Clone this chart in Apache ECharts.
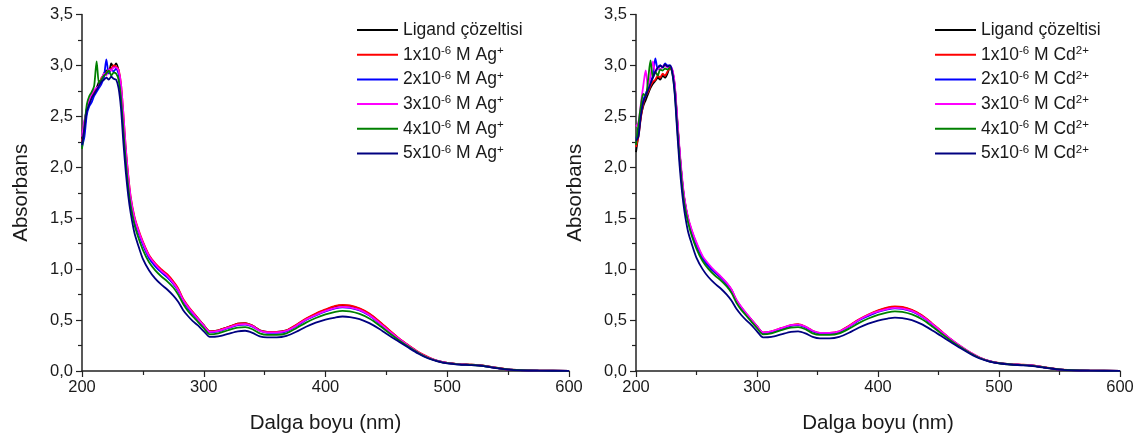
<!DOCTYPE html>
<html>
<head>
<meta charset="utf-8">
<script src="https://cdn.jsdelivr.net/npm/echarts@6/dist/echarts.min.js"></script>
<style>
html,body{margin:0;padding:0;background:#fff;}
#c{width:1146px;height:441px;}
</style>
</head>
<body>
<div id="c"></div>
<script>
// wavelengths (nm)
const wavelengths = [200,202,204,206,208,210,212,214,216,218,220,222,224,226,228,230,232,234,236,238,240,
 243,246,250,255,260,265,270,275,279,283,287,291,295,300,305,
 312,320,328,334,340,346,352,360,368,376,384,392,400,408,414,420,428,436,444,452,460,468,476,484,492,500,
 510,520,530,540,550,560,575,600];

const xTicks = [200,300,400,500,600];
const yTicks = [0,0.5,1.0,1.5,2.0,2.5,3.0,3.5];

const agNames = ["Ligand çözeltisi","1x10-6 M Ag+","2x10-6 M Ag+","3x10-6 M Ag+","4x10-6 M Ag+","5x10-6 M Ag+"];
const cdNames = ["Ligand çözeltisi ","1x10-6 M Cd2+","2x10-6 M Cd2+","3x10-6 M Cd2+","4x10-6 M Cd2+","5x10-6 M Cd2+"];

// Ag+ panel
const agLigand = [2.28,2.44,2.58,2.66,2.70,2.74,2.78,2.84,2.86,2.92,2.95,2.93,3.02,2.98,3.02,2.95,2.78,2.45,2.14,1.88,1.68,
 1.50,1.38,1.26,1.13,1.05,0.99,0.94,0.87,0.80,0.70,0.63,0.57,0.52,0.45,0.39,
 0.40,0.43,0.465,0.47,0.445,0.40,0.385,0.385,0.40,0.45,0.51,0.56,0.60,0.635,0.645,0.64,0.61,0.56,0.485,0.40,0.32,0.25,0.185,0.135,0.10,0.08,
 0.068,0.062,0.052,0.032,0.016,0.009,0.004,0.001];
const ag1 = [2.25,2.40,2.55,2.64,2.70,2.73,2.76,2.80,2.88,2.90,2.93,2.96,2.97,3.00,2.99,2.96,2.82,2.52,2.18,1.92,1.71,
 1.52,1.40,1.27,1.14,1.06,1.00,0.95,0.88,0.81,0.71,0.64,0.58,0.52,0.45,0.39,
 0.40,0.43,0.465,0.47,0.445,0.40,0.385,0.385,0.40,0.455,0.515,0.565,0.605,0.64,0.65,0.645,0.615,0.565,0.49,0.405,0.325,0.255,0.19,0.14,0.10,0.08,
 0.068,0.062,0.052,0.032,0.016,0.009,0.004,0.001];
const ag2 = [2.20,2.30,2.52,2.60,2.64,2.70,2.74,2.78,2.82,2.88,3.06,2.92,2.96,2.94,2.97,2.92,2.76,2.44,2.12,1.86,1.67,
 1.48,1.37,1.24,1.11,1.03,0.97,0.92,0.855,0.785,0.69,0.62,0.56,0.51,0.44,0.38,
 0.39,0.42,0.45,0.455,0.435,0.395,0.375,0.375,0.39,0.44,0.50,0.545,0.585,0.615,0.625,0.62,0.595,0.545,0.47,0.39,0.315,0.245,0.18,0.13,0.10,0.078,
 0.066,0.06,0.05,0.03,0.015,0.008,0.004,0.001];
const ag3 = [2.30,2.46,2.56,2.66,2.72,2.76,2.78,2.80,2.86,2.92,2.90,2.96,2.95,2.98,2.98,2.95,2.82,2.52,2.18,1.91,1.70,
 1.51,1.39,1.26,1.13,1.05,0.985,0.935,0.865,0.795,0.70,0.63,0.57,0.515,0.445,0.385,
 0.395,0.425,0.455,0.46,0.44,0.395,0.38,0.38,0.395,0.445,0.505,0.55,0.59,0.62,0.63,0.625,0.60,0.55,0.475,0.395,0.32,0.25,0.185,0.135,0.10,0.08,
 0.067,0.061,0.051,0.031,0.015,0.008,0.004,0.001];
const ag4 = [2.18,2.40,2.62,2.70,2.74,2.80,3.04,2.82,2.86,2.90,2.92,2.95,2.90,2.93,2.92,2.86,2.68,2.36,2.05,1.80,1.62,
 1.44,1.32,1.19,1.07,0.99,0.93,0.88,0.82,0.75,0.66,0.59,0.535,0.485,0.42,0.36,
 0.37,0.40,0.425,0.43,0.41,0.37,0.355,0.355,0.37,0.42,0.475,0.52,0.555,0.58,0.59,0.585,0.56,0.515,0.45,0.375,0.305,0.24,0.18,0.13,0.097,0.077,
 0.065,0.059,0.049,0.03,0.015,0.008,0.004,0.001];
const ag5 = [2.22,2.38,2.55,2.62,2.68,2.72,2.76,2.80,2.84,2.86,2.88,2.86,2.89,2.87,2.86,2.78,2.58,2.24,1.95,1.72,1.55,
 1.36,1.24,1.10,0.99,0.91,0.85,0.80,0.74,0.68,0.60,0.54,0.49,0.45,0.39,0.335,
 0.34,0.365,0.39,0.395,0.375,0.34,0.33,0.33,0.345,0.385,0.435,0.475,0.505,0.525,0.535,0.53,0.51,0.47,0.415,0.35,0.29,0.23,0.172,0.125,0.095,0.075,
 0.063,0.057,0.047,0.029,0.014,0.007,0.003,0.001];

// Cd2+ panel
const cdLigand = [2.15,2.32,2.50,2.60,2.66,2.72,2.78,2.82,2.85,2.88,2.86,2.90,2.88,2.92,2.98,2.94,2.78,2.46,2.15,1.88,1.68,
 1.49,1.37,1.24,1.11,1.03,0.97,0.92,0.855,0.79,0.69,0.62,0.56,0.505,0.435,0.375,
 0.385,0.415,0.445,0.455,0.43,0.39,0.37,0.37,0.385,0.44,0.50,0.55,0.59,0.62,0.63,0.625,0.595,0.545,0.47,0.39,0.31,0.24,0.18,0.13,0.097,0.078,
 0.066,0.061,0.051,0.031,0.015,0.008,0.004,0.001];
const cd1 = [2.20,2.30,2.48,2.62,2.70,2.74,2.80,2.84,2.86,2.90,2.88,2.92,2.90,2.94,2.97,2.95,2.80,2.48,2.16,1.89,1.69,
 1.50,1.38,1.25,1.12,1.04,0.975,0.925,0.86,0.795,0.695,0.625,0.565,0.51,0.44,0.38,
 0.39,0.42,0.45,0.46,0.435,0.395,0.375,0.375,0.39,0.445,0.505,0.555,0.595,0.625,0.635,0.63,0.60,0.55,0.475,0.395,0.315,0.245,0.183,0.133,0.098,0.079,
 0.067,0.062,0.052,0.032,0.016,0.009,0.004,0.001];
const cd2 = [2.28,2.36,2.56,2.66,2.72,2.78,2.84,2.90,3.07,2.96,3.00,2.98,3.02,3.00,3.00,2.95,2.80,2.47,2.15,1.88,1.68,
 1.49,1.37,1.24,1.11,1.03,0.97,0.92,0.855,0.79,0.69,0.62,0.56,0.505,0.435,0.375,
 0.385,0.415,0.445,0.45,0.43,0.39,0.37,0.37,0.385,0.435,0.495,0.54,0.58,0.605,0.615,0.61,0.585,0.535,0.465,0.385,0.31,0.24,0.18,0.13,0.097,0.077,
 0.066,0.06,0.05,0.031,0.015,0.008,0.004,0.001];
const cd3 = [2.40,2.44,2.62,2.80,2.95,2.78,2.90,3.04,2.92,2.98,2.96,2.99,3.00,2.98,2.99,2.96,2.82,2.50,2.18,1.91,1.70,
 1.51,1.39,1.26,1.13,1.05,0.985,0.93,0.865,0.80,0.70,0.63,0.57,0.51,0.44,0.38,
 0.39,0.42,0.45,0.455,0.435,0.395,0.375,0.375,0.39,0.44,0.50,0.55,0.585,0.61,0.62,0.615,0.59,0.54,0.47,0.39,0.315,0.245,0.183,0.133,0.098,0.078,
 0.066,0.06,0.05,0.031,0.015,0.008,0.004,0.001];
const cd4 = [2.22,2.42,2.60,2.72,2.70,2.86,3.05,2.88,2.94,2.90,2.96,2.95,2.97,2.96,2.98,2.92,2.74,2.40,2.09,1.83,1.64,
 1.46,1.33,1.20,1.08,1.00,0.94,0.89,0.83,0.765,0.67,0.60,0.545,0.49,0.42,0.36,
 0.37,0.40,0.425,0.43,0.41,0.37,0.355,0.355,0.37,0.415,0.47,0.515,0.55,0.575,0.585,0.58,0.555,0.51,0.445,0.37,0.30,0.235,0.177,0.128,0.095,0.076,
 0.064,0.058,0.048,0.03,0.015,0.008,0.004,0.001];
const cd5 = [2.26,2.30,2.50,2.64,2.70,2.76,2.82,2.88,2.94,2.98,3.00,2.98,3.01,2.99,3.00,2.93,2.72,2.36,2.02,1.76,1.57,
 1.37,1.25,1.11,1.00,0.92,0.86,0.81,0.75,0.69,0.61,0.55,0.50,0.455,0.39,0.33,
 0.335,0.36,0.385,0.39,0.37,0.335,0.32,0.32,0.335,0.375,0.425,0.465,0.495,0.515,0.525,0.52,0.50,0.46,0.405,0.345,0.285,0.225,0.17,0.123,0.093,0.074,
 0.062,0.056,0.046,0.028,0.014,0.007,0.003,0.001];

const colors = ['#000000','#ff0000','#0000ff','#ff00ff','#008000','#000080'];
const agSeries = [agLigand, ag1, ag2, ag3, ag4, ag5];
const cdSeries = [cdLigand, cd1, cd2, cd3, cd4, cd5];

const FONT = '"Liberation Sans", Arial, sans-serif';
const TXT = '#1a1a1a';

function richName(name){
  const n = name.trim();
  if (n === 'Ligand çözeltisi') return n;
  const m = n.match(/^(\d)x10-6 M (Ag|Cd)(\+|2\+)$/);
  if (!m) return n;
  return m[1] + 'x10{sup|-6} M ' + m[2] + '{sup|' + m[3] + '}';
}

function pairs(vals){ return wavelengths.map((w,i)=>[w, vals[i]]); }

function xAxis(idx){
  return {
    type:'value', gridIndex: idx, min: xTicks[0], max: xTicks[xTicks.length-1], interval: 100,
    name: 'Dalga boyu (nm)', nameLocation:'middle', nameGap: 42,
    nameTextStyle:{fontSize:20.5, color:TXT, fontFamily:FONT},
    axisLine:{show:true, onZero:false, lineStyle:{color:'#222', width:1.5}},
    axisTick:{show:true, inside:false, length:6, lineStyle:{color:'#222', width:1.2}},
    minorTick:{show:true, splitNumber:2, length:4, lineStyle:{color:'#222', width:1.2}},
    splitLine:{show:false}, minorSplitLine:{show:false},
    axisLabel:{fontSize:16.5, color:TXT, fontFamily:FONT, margin:8}
  };
}
function yAxis(idx){
  return {
    type:'value', gridIndex: idx, min: yTicks[0], max: yTicks[yTicks.length-1], interval: 0.5,
    name: 'Absorbans', nameLocation:'middle', nameGap: 50,
    nameTextStyle:{fontSize:20.5, color:TXT, fontFamily:FONT},
    axisLine:{show:true, onZero:false, lineStyle:{color:'#222', width:1.5}},
    axisTick:{show:true, inside:false, length:6, lineStyle:{color:'#222', width:1.2}},
    minorTick:{show:true, splitNumber:2, length:4, lineStyle:{color:'#222', width:1.2}},
    splitLine:{show:false}, minorSplitLine:{show:false},
    axisLabel:{fontSize:16.5, color:TXT, fontFamily:FONT, margin:9,
      formatter: v => v.toFixed(1).replace('.', ',')}
  };
}

const series = [];
agSeries.forEach((vals,i)=>{
  series.push({type:'line', name: agNames[i], xAxisIndex:0, yAxisIndex:0, data: pairs(vals),
    symbol:'none', smooth:0.25, lineStyle:{color:colors[i], width:1.8}, itemStyle:{color:colors[i]}, z: 2+i});
});
cdSeries.forEach((vals,i)=>{
  series.push({type:'line', name: cdNames[i], xAxisIndex:1, yAxisIndex:1, data: pairs(vals),
    symbol:'none', smooth:0.25, lineStyle:{color:colors[i], width:1.8}, itemStyle:{color:colors[i]}, z: 2+i});
});

function legend(left, names){
  return {
    orient:'vertical', left: left, top: 15, itemWidth: 41, itemHeight: 2, itemGap: 4.7,
    icon: 'rect',
    data: names, selectedMode:false,
    formatter: richName,
    textStyle:{fontSize:17.5, color:TXT, fontFamily:FONT, lineHeight:20,
      rich:{sup:{fontSize:11.5, color:TXT, fontFamily:FONT, verticalAlign:'top', lineHeight:11}}}
  };
}

const chart = echarts.init(document.getElementById('c'), null, {renderer:'canvas'});
chart.setOption({
  animation:false,
  backgroundColor:'#ffffff',
  grid:[
    {left:82, right:577, top:14.5, bottom:70, containLabel:false},
    {left:636, right:26, top:14.5, bottom:70, containLabel:false}
  ],
  legend:[legend(352, agNames), legend(930, cdNames)],
  xAxis:[xAxis(0), xAxis(1)],
  yAxis:[yAxis(0), yAxis(1)],
  series: series
});
</script>
</body>
</html>
